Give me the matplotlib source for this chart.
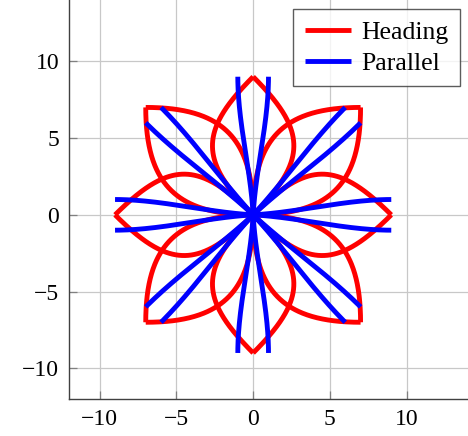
import numpy as np
import matplotlib.pyplot as plt

# end points of the "Heading" curves (each reached twice, with end heading chord +/- 45 deg)
heading_x = [0, 7, 9, 7, 0, -7, -9, -7]
heading_y = [9, 7, 0, -7, -9, -7, 0, 7]
heading_turn = 45      # deg between chord and start / end direction
heading_handle = 5.0   # bezier handle length

# end points of the "Parallel" curves and their end heading
parallel_x = [1, -1, 6, 7, 9, 9, 7, 6, 1, -1, -6, -7, -9, -9, -7, -6]
parallel_y = [9, 9, 7, 6, 1, -1, -6, -7, -9, -9, -7, -6, -1, 1, 6, 7]
parallel_dir = [90, 90, 45, 45, 0, 0, -45, -45, -90, -90, -135, -135, 180, 180, 135, 135]

ticks = [-10, -5, 0, 5, 10]


def bezier(end, h0, h1, L0, L1, n=200):
    p0 = np.array([0.0, 0.0])
    p3 = np.array(end, dtype=float)
    a0, a1 = np.radians(h0), np.radians(h1)
    p1 = p0 + L0 * np.array([np.cos(a0), np.sin(a0)])
    p2 = p3 - L1 * np.array([np.cos(a1), np.sin(a1)])
    t = np.linspace(0, 1, n)[:, None]
    pts = ((1 - t) ** 3) * p0 + 3 * ((1 - t) ** 2) * t * p1 + 3 * (1 - t) * t ** 2 * p2 + t ** 3 * p3
    return pts[:, 0], pts[:, 1]


plt.rcParams['font.family'] = 'Liberation Serif'

fig = plt.figure(figsize=(4.68, 4.36), dpi=100)
ax = fig.add_axes([69 / 468, 37 / 436, 399 / 468, 399 / 436])

lw = 3.5
for i, (x, y) in enumerate(zip(heading_x, heading_y)):
    c = np.degrees(np.arctan2(y, x))
    for s in (1, -1):
        bx, by = bezier((x, y), c + s * heading_turn, c - s * heading_turn,
                        heading_handle, heading_handle)
        ax.plot(bx, by, color='red', lw=lw, solid_capstyle='butt',
                label='Heading' if (i == 0 and s == 1) else None, zorder=2)

for i, (x, y, d) in enumerate(zip(parallel_x, parallel_y, parallel_dir)):
    c = np.degrees(np.arctan2(y, x))
    # start direction halfway between the chord and the end heading
    diff = (d - c + 180) % 360 - 180
    start = c + diff / 2
    L = np.hypot(x, y) / 3
    bx, by = bezier((x, y), start, d, L, L)
    ax.plot(bx, by, color='blue', lw=lw, solid_capstyle='butt',
            label='Parallel' if i == 0 else None, zorder=3)

ax.set_xlim(-12, 14)
ax.set_ylim(-12, 14)
ax.set_xticks(ticks)
ax.set_yticks(ticks)
ax.set_xticklabels([str(t).replace('-', '\u2212') for t in ticks])
ax.set_yticklabels([str(t).replace('-', '\u2212') for t in ticks])
ax.grid(True, color='#c8c8c8', lw=0.9)
ax.set_axisbelow(True)
ax.tick_params(direction='in', length=6, width=0.9, color='0.5', labelsize=17, pad=7)
for side in ('top', 'right'):
    ax.spines[side].set_visible(False)
for side in ('left', 'bottom'):
    ax.spines[side].set_color('0.25')
    ax.spines[side].set_linewidth(1.0)

leg = ax.legend(loc='upper right', fontsize=18.5, frameon=True, fancybox=False,
                edgecolor='0.2', handlelength=1.8, handletextpad=0.4,
                borderpad=0.45, labelspacing=0.32, borderaxespad=0,
                bbox_to_anchor=(1 - 8 / 399, 1 - 9 / 399))
leg.get_frame().set_linewidth(1.0)

fig.savefig('out.png', dpi=100)
